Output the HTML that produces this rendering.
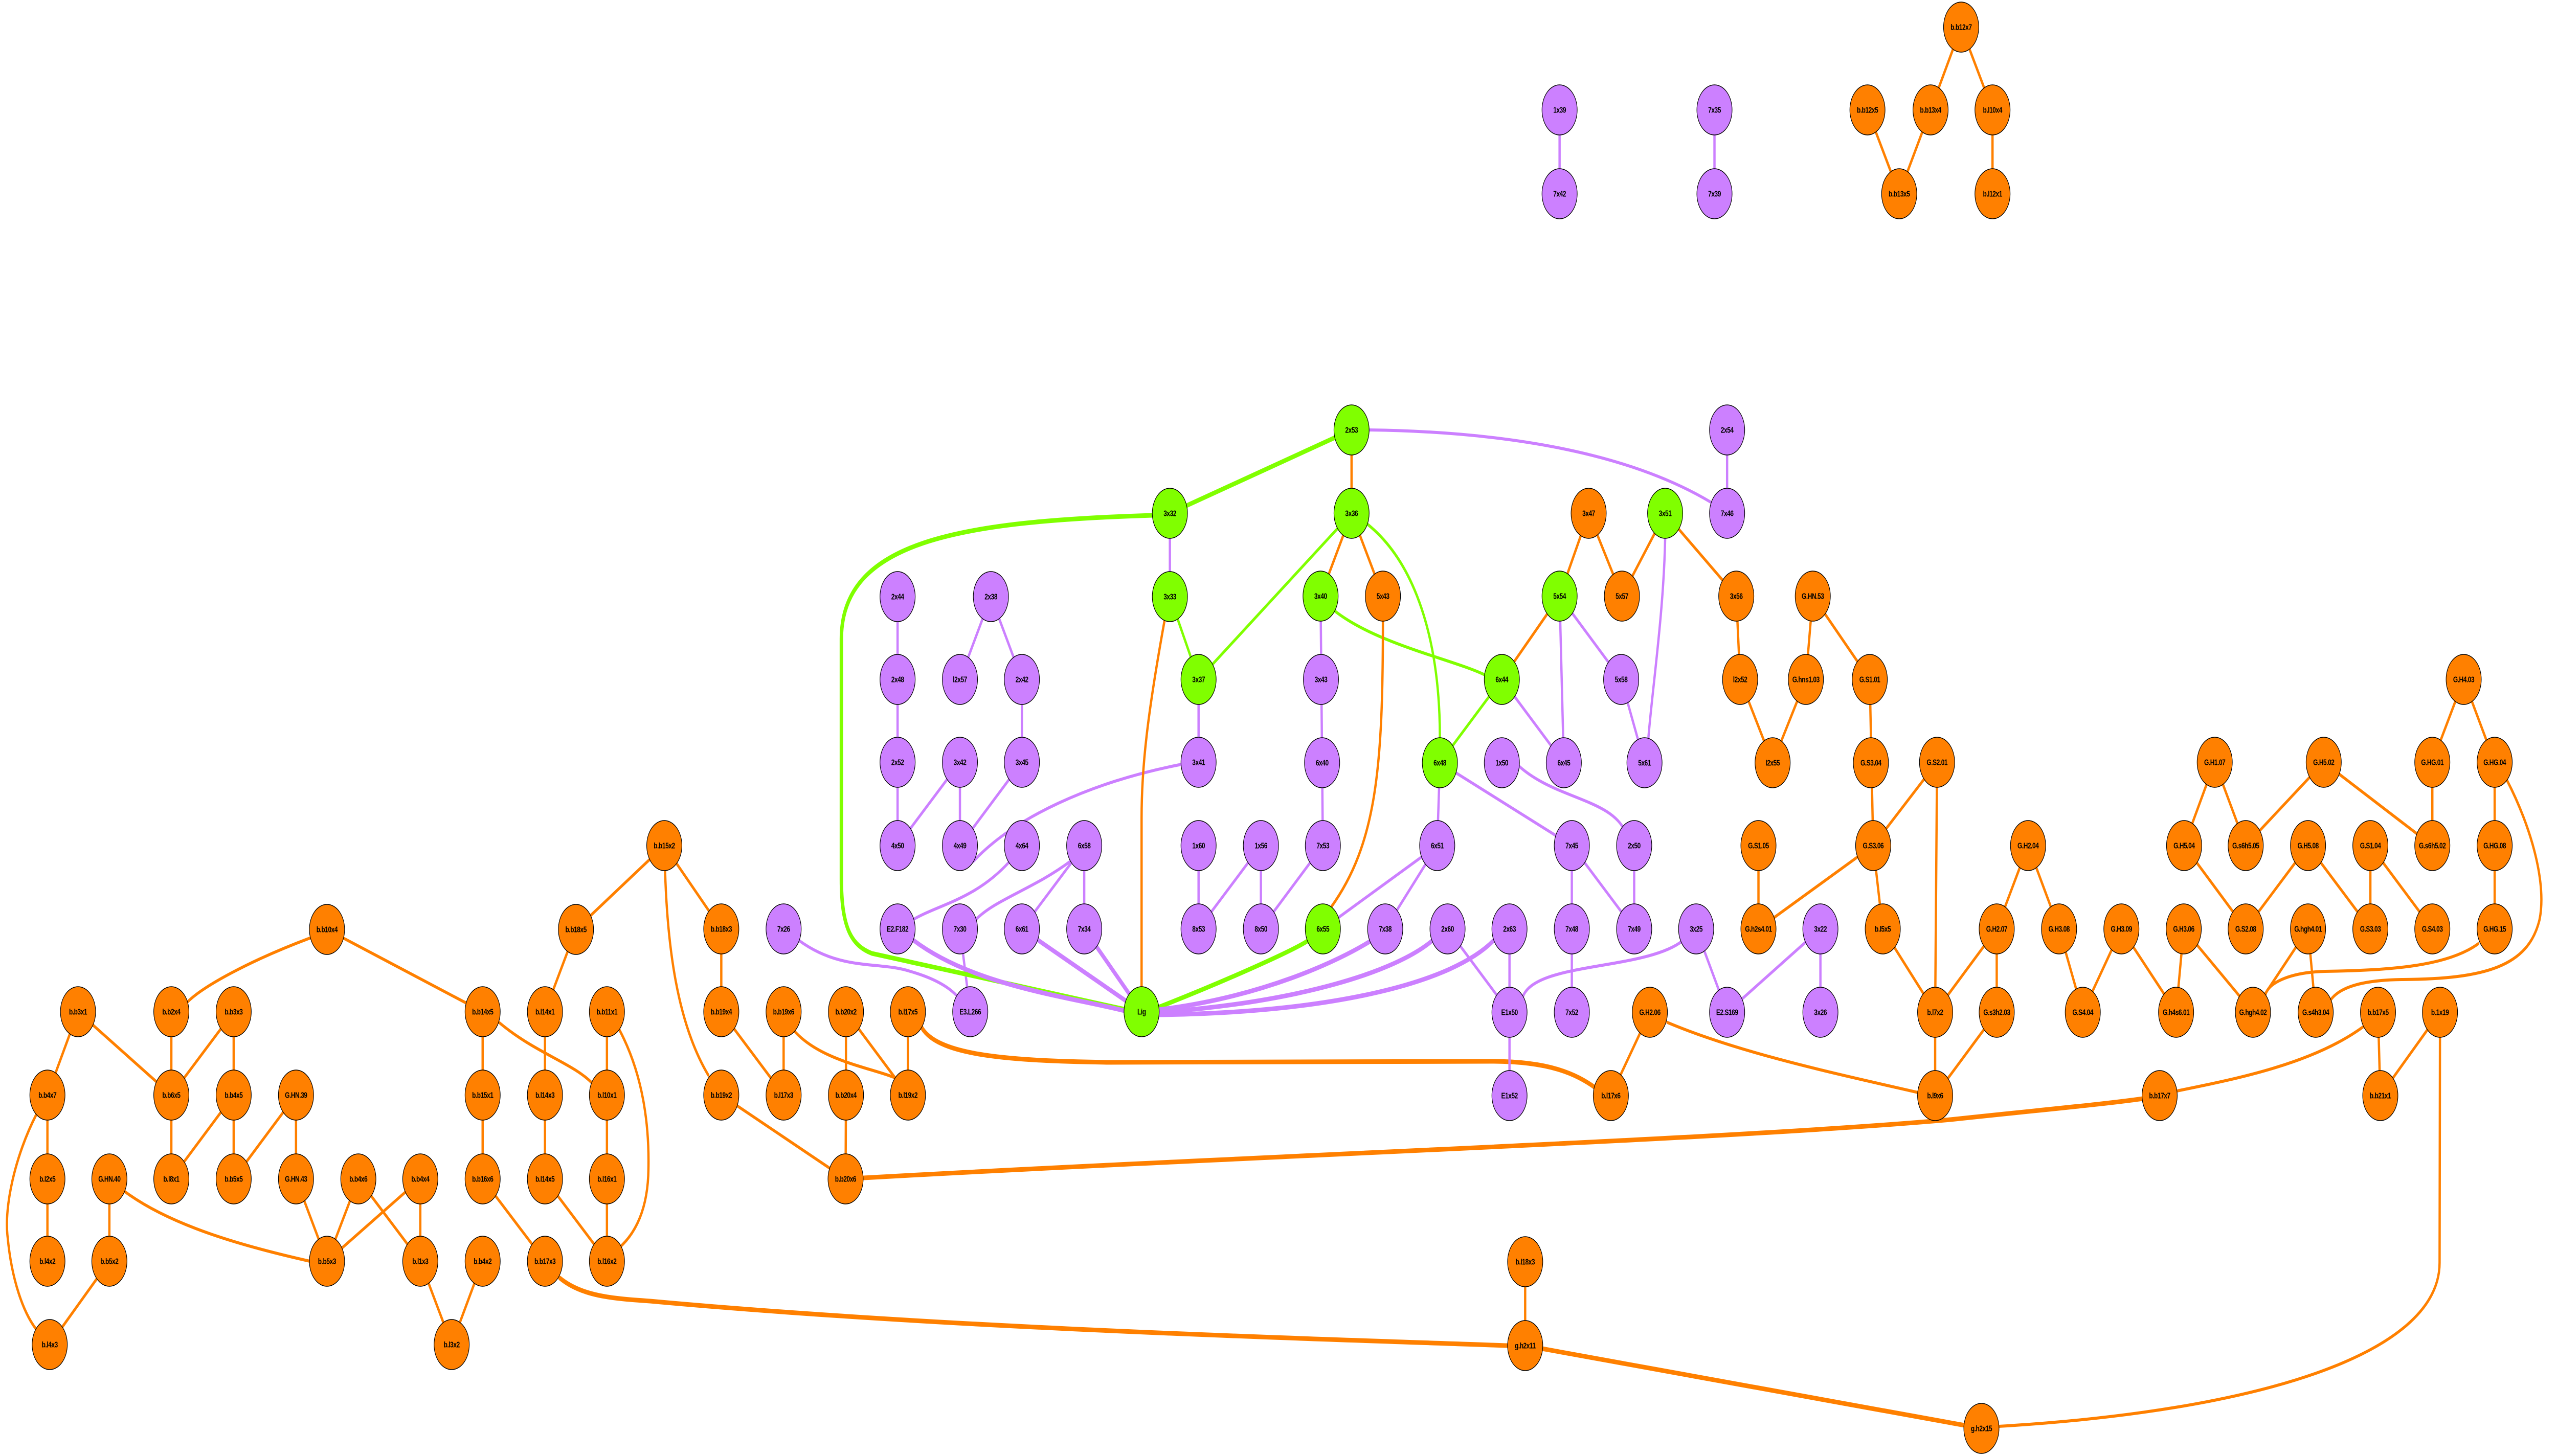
<!DOCTYPE html>
<html><head><meta charset="utf-8"><style>
html,body{margin:0;padding:0;background:#fff;overflow:hidden;width:100vw;height:100vh;}
svg{display:block;width:100vw;height:100vh;}
text{font-family:"Liberation Sans",sans-serif;font-weight:bold;font-size:16px;text-anchor:middle;dominant-baseline:central;letter-spacing:-0.6px;fill:#000;}
.o{fill:#FF8000;stroke:#000;stroke-width:1.5}
.p{fill:#CC80FF;stroke:#000;stroke-width:1.5}
.g{fill:#80FF00;stroke:#000;stroke-width:1.5}
.eo{stroke:#FF8000;stroke-width:6;fill:none}
.ep{stroke:#CC80FF;stroke-width:6;fill:none}
.eg{stroke:#80FF00;stroke-width:6;fill:none}
.w{stroke-width:9}
</style></head><body>
<svg viewBox="0 0 6686 2848" preserveAspectRatio="none" xmlns="http://www.w3.org/2000/svg">
<g stroke-linecap="round">
<line class="ep" x1="4078" y1="215" x2="4078" y2="379"/>
<line class="ep" x1="4483" y1="215" x2="4483" y2="379"/>
<line class="eo" x1="5128" y1="53" x2="5048" y2="215"/>
<line class="eo" x1="5128" y1="53" x2="5210" y2="215"/>
<line class="eo" x1="4883" y1="215" x2="4966" y2="379"/>
<line class="eo" x1="5048" y1="215" x2="4966" y2="379"/>
<line class="eo" x1="5210" y1="215" x2="5210" y2="379"/>
<path class="eo" d="M810,1835 C650,1880 530,1930 490,1960"/>
<line class="eo" x1="855" y1="1818" x2="1262" y2="1979"/>
<line class="eo" x1="204" y1="1979" x2="124" y2="2142"/>
<line class="eo" x1="204" y1="1979" x2="448" y2="2142"/>
<line class="eo" x1="448" y1="1979" x2="448" y2="2142"/>
<line class="eo" x1="611" y1="1979" x2="448" y2="2142"/>
<line class="eo" x1="611" y1="1979" x2="611" y2="2142"/>
<line class="eo" x1="448" y1="2142" x2="448" y2="2306"/>
<line class="eo" x1="611" y1="2142" x2="448" y2="2306"/>
<line class="eo" x1="611" y1="2142" x2="611" y2="2306"/>
<line class="eo" x1="774" y1="2142" x2="611" y2="2306"/>
<line class="eo" x1="774" y1="2142" x2="774" y2="2306"/>
<line class="eo" x1="124" y1="2142" x2="124" y2="2306"/>
<path class="eo" d="M95,2180 C40,2260 10,2360 20,2420 C30,2500 60,2570 100,2605"/>
<line class="eo" x1="124" y1="2306" x2="124" y2="2467"/>
<line class="eo" x1="286" y1="2306" x2="286" y2="2467"/>
<path class="eo" d="M325,2330 C450,2400 650,2440 810,2467"/>
<line class="eo" x1="286" y1="2467" x2="130" y2="2630"/>
<line class="eo" x1="774" y1="2306" x2="855" y2="2467"/>
<line class="eo" x1="937" y1="2306" x2="855" y2="2467"/>
<line class="eo" x1="937" y1="2306" x2="1099" y2="2467"/>
<line class="eo" x1="1099" y1="2306" x2="855" y2="2467"/>
<line class="eo" x1="1099" y1="2306" x2="1099" y2="2467"/>
<line class="eo" x1="1099" y1="2467" x2="1181" y2="2630"/>
<line class="eo" x1="1262" y1="2467" x2="1181" y2="2630"/>
<line class="eo" x1="1506" y1="1818" x2="1425" y2="1979"/>
<line class="eo" x1="1506" y1="1818" x2="1737" y2="1654"/>
<line class="eo" x1="1262" y1="1979" x2="1262" y2="2142"/>
<path class="eo" d="M1305,2000 C1400,2060 1500,2080 1550,2120"/>
<line class="eo" x1="1425" y1="1979" x2="1425" y2="2306"/>
<line class="eo" x1="1587" y1="1979" x2="1587" y2="2467"/>
<path class="eo" d="M1620,2015 C1680,2100 1700,2200 1695,2300 C1690,2380 1650,2420 1620,2440"/>
<line class="eo" x1="1262" y1="2142" x2="1262" y2="2306"/>
<line class="eo" x1="1262" y1="2306" x2="1425" y2="2467"/>
<line class="eo" x1="1425" y1="2306" x2="1587" y2="2467"/>
<path class="eo w" d="M1464,2500 C1520,2535 1600,2540 1700,2545 C2500,2600 3500,2620 3940,2632"/>
<line class="eo" x1="1737" y1="1654" x2="1886" y2="1817"/>
<path class="eo" d="M1739,1703 C1745,1850 1770,2000 1852,2103"/>
<line class="eo" x1="1886" y1="1817" x2="1886" y2="1979"/>
<line class="eo" x1="1886" y1="1979" x2="2049" y2="2142"/>
<line class="eo" x1="2049" y1="1979" x2="2049" y2="2142"/>
<path class="eo" d="M2075,2015 C2150,2080 2300,2090 2360,2115"/>
<line class="eo" x1="2212" y1="1979" x2="2212" y2="2142"/>
<line class="eo" x1="2212" y1="1979" x2="2374" y2="2142"/>
<line class="eo" x1="2374" y1="1979" x2="2374" y2="2142"/>
<line class="eo" x1="1886" y1="2142" x2="2211" y2="2306"/>
<line class="eo" x1="2212" y1="2142" x2="2211" y2="2306"/>
<path class="eo w" d="M2410,2010 C2450,2060 2600,2075 2900,2078 L3900,2076 C4050,2076 4120,2100 4172,2128"/>
<path class="eo w" d="M2258,2304 C3300,2260 4500,2230 5100,2190 C5350,2170 5500,2160 5603,2149"/>
<line class="ep" x1="2347" y1="1167" x2="2347" y2="1654"/>
<line class="ep" x1="2591" y1="1167" x2="2510" y2="1329"/>
<line class="ep" x1="2591" y1="1167" x2="2672" y2="1329"/>
<line class="ep" x1="2672" y1="1329" x2="2672" y2="1491"/>
<line class="ep" x1="2510" y1="1491" x2="2347" y2="1654"/>
<line class="ep" x1="2510" y1="1491" x2="2510" y2="1654"/>
<line class="ep" x1="2672" y1="1491" x2="2510" y2="1654"/>
<path class="ep" d="M3090,1495 C2850,1530 2650,1600 2545,1685"/>
<path class="ep" d="M2640,1685 C2550,1760 2450,1770 2385,1800"/>
<path class="ep" d="M2800,1684 C2700,1740 2600,1760 2550,1800"/>
<line class="ep" x1="2835" y1="1654" x2="2672" y2="1817"/>
<line class="ep" x1="2835" y1="1654" x2="2835" y2="1817"/>
<line class="ep" x1="2510" y1="1817" x2="2537" y2="1979"/>
<path class="ep" d="M2090,1840 C2200,1900 2300,1880 2380,1900 C2450,1915 2490,1935 2510,1955"/>
<line class="ep" x1="3134" y1="1654" x2="3134" y2="1817"/>
<line class="ep" x1="3297" y1="1654" x2="3134" y2="1817"/>
<line class="ep" x1="3297" y1="1654" x2="3297" y2="1817"/>
<line class="ep" x1="3459" y1="1654" x2="3297" y2="1817"/>
<path class="eg w" d="M3013,1008 C2500,1020 2200,1060 2200,1250 L2200,1720 C2200,1820 2230,1850 2280,1865 L2945,1975"/>
<line class="eg w" x1="3534" y1="841" x2="3059" y2="1004"/>
<line class="ep" x1="3059" y1="1004" x2="3059" y2="1167"/>
<line class="eg" x1="3059" y1="1167" x2="3134" y2="1329"/>
<path class="eo" d="M3045,1214 C3000,1400 2985,1500 2985,1600 L2985,1930"/>
<line class="eg" x1="3534" y1="1004" x2="3134" y2="1329"/>
<line class="ep" x1="3134" y1="1329" x2="3134" y2="1491"/>
<path class="ep w" d="M2390,1840 C2550,1930 2800,1950 2945,1978"/>
<line class="ep w" x1="2672" y1="1817" x2="2985" y2="1979"/>
<line class="ep w" x1="2835" y1="1817" x2="2985" y2="1979"/>
<path class="eg w" d="M3030,1970 C3200,1920 3380,1860 3420,1840"/>
<path class="ep w" d="M3030,1975 C3300,1950 3500,1880 3585,1840"/>
<path class="ep w" d="M3030,1980 C3400,1960 3650,1900 3745,1840"/>
<path class="ep w" d="M3030,1985 C3500,1980 3800,1920 3905,1840"/>
<line class="eo" x1="3534" y1="841" x2="3534" y2="1004"/>
<path class="ep" d="M3580,841 C4000,845 4300,900 4490,990"/>
<line class="ep" x1="4516" y1="841" x2="4516" y2="1004"/>
<line class="eo" x1="3534" y1="1004" x2="3453" y2="1166"/>
<line class="eo" x1="3534" y1="1004" x2="3616" y2="1166"/>
<path class="eg" d="M3575,1025 C3700,1100 3765,1250 3765,1443"/>
<line class="ep" x1="3453" y1="1166" x2="3459" y2="1654"/>
<path class="eg" d="M3490,1195 C3600,1260 3800,1290 3882,1320"/>
<path class="eo" d="M3616,1216 C3616,1500 3600,1650 3480,1775"/>
<line class="eo" x1="4154" y1="1004" x2="4078" y2="1166"/>
<line class="eo" x1="4154" y1="1004" x2="4241" y2="1166"/>
<line class="eo" x1="4354" y1="1004" x2="4241" y2="1166"/>
<line class="eo" x1="4354" y1="1004" x2="4540" y2="1166"/>
<path class="ep" d="M4354,1054 C4350,1200 4320,1350 4310,1445"/>
<line class="eo" x1="4078" y1="1166" x2="3927" y2="1329"/>
<line class="ep" x1="4078" y1="1166" x2="4089" y2="1492"/>
<line class="ep" x1="4078" y1="1166" x2="4239" y2="1329"/>
<line class="eg" x1="3927" y1="1329" x2="3765" y2="1492"/>
<line class="ep" x1="3927" y1="1329" x2="4089" y2="1492"/>
<line class="ep" x1="4239" y1="1329" x2="4300" y2="1492"/>
<line class="eo" x1="4540" y1="1166" x2="4550" y2="1329"/>
<line class="eo" x1="4550" y1="1329" x2="4635" y2="1492"/>
<line class="eo" x1="4740" y1="1166" x2="4722" y2="1329"/>
<line class="eo" x1="4722" y1="1329" x2="4635" y2="1492"/>
<line class="eo" x1="4740" y1="1166" x2="4889" y2="1329"/>
<line class="eo" x1="4889" y1="1329" x2="4898" y2="1654"/>
<line class="eo" x1="4898" y1="1654" x2="4598" y2="1817"/>
<line class="eo" x1="4898" y1="1654" x2="4923" y2="1817"/>
<line class="eo" x1="4898" y1="1654" x2="5065" y2="1491"/>
<line class="eo" x1="4598" y1="1654" x2="4598" y2="1817"/>
<line class="ep" x1="3765" y1="1492" x2="3758" y2="1654"/>
<line class="ep" x1="3765" y1="1492" x2="4110" y2="1654"/>
<path class="ep" d="M3960,1490 C4050,1560 4200,1560 4245,1620"/>
<line class="ep" x1="3758" y1="1654" x2="3459" y2="1817"/>
<line class="ep" x1="3758" y1="1654" x2="3622" y2="1817"/>
<line class="ep" x1="4110" y1="1654" x2="4110" y2="1980"/>
<line class="ep" x1="4110" y1="1654" x2="4273" y2="1817"/>
<line class="ep" x1="4273" y1="1654" x2="4273" y2="1817"/>
<line class="ep" x1="3785" y1="1817" x2="3947" y2="1980"/>
<line class="ep" x1="3947" y1="1817" x2="3947" y2="2143"/>
<path class="ep" d="M4400,1840 C4300,1900 4000,1880 3980,1955"/>
<line class="ep" x1="4435" y1="1817" x2="4516" y2="1980"/>
<line class="ep" x1="4760" y1="1817" x2="4516" y2="1980"/>
<line class="ep" x1="4760" y1="1817" x2="4760" y2="1980"/>
<line class="eo" x1="4314" y1="1980" x2="4212" y2="2143"/>
<path class="eo" d="M4360,2000 C4550,2060 4800,2100 5015,2137"/>
<line class="eo" x1="4923" y1="1817" x2="5060" y2="1980"/>
<line class="eo" x1="3988" y1="2468" x2="3988" y2="2632"/>
<line class="eo w" x1="3988" y1="2632" x2="5181" y2="2794"/>
<path class="eo" d="M6380,2028 L6379,2470 C6379,2650 5900,2760 5226,2790"/>
<line class="eo" x1="5065" y1="1491" x2="5060" y2="1980"/>
<line class="eo" x1="5303" y1="1654" x2="5221" y2="1817"/>
<line class="eo" x1="5303" y1="1654" x2="5384" y2="1817"/>
<line class="eo" x1="5221" y1="1817" x2="5060" y2="1980"/>
<line class="eo" x1="5221" y1="1817" x2="5221" y2="1980"/>
<line class="eo" x1="5221" y1="1980" x2="5060" y2="2143"/>
<line class="eo" x1="5060" y1="1980" x2="5060" y2="2143"/>
<line class="eo" x1="5384" y1="1817" x2="5446" y2="1980"/>
<line class="eo" x1="5547" y1="1817" x2="5446" y2="1980"/>
<line class="eo" x1="5547" y1="1817" x2="5690" y2="1980"/>
<line class="eo" x1="5710" y1="1817" x2="5690" y2="1980"/>
<line class="eo" x1="5710" y1="1817" x2="5891" y2="1980"/>
<line class="eo" x1="5791" y1="1491" x2="5711" y2="1654"/>
<line class="eo" x1="5791" y1="1491" x2="5872" y2="1654"/>
<line class="eo" x1="6076" y1="1491" x2="5872" y2="1654"/>
<line class="eo" x1="6076" y1="1491" x2="6360" y2="1654"/>
<line class="eo" x1="6360" y1="1491" x2="6360" y2="1654"/>
<line class="eo" x1="6442" y1="1329" x2="6360" y2="1491"/>
<line class="eo" x1="6442" y1="1329" x2="6523" y2="1491"/>
<line class="eo" x1="6523" y1="1491" x2="6523" y2="1817"/>
<line class="eo" x1="5711" y1="1654" x2="5872" y2="1817"/>
<line class="eo" x1="6035" y1="1654" x2="5872" y2="1817"/>
<line class="eo" x1="6035" y1="1654" x2="6198" y2="1817"/>
<line class="eo" x1="6198" y1="1654" x2="6198" y2="1817"/>
<line class="eo" x1="6198" y1="1654" x2="6360" y2="1817"/>
<line class="eo" x1="6035" y1="1817" x2="5891" y2="1980"/>
<line class="eo" x1="6035" y1="1817" x2="6055" y2="1980"/>
<path class="eo" d="M6480,1846 C6400,1890 6250,1898 6080,1900 C5980,1902 5930,1925 5924,1945"/>
<path class="eo" d="M6555,1526 C6620,1620 6660,1730 6640,1800 C6610,1890 6500,1915 6280,1916 C6180,1917 6120,1930 6095,1955"/>
<line class="eo" x1="6218" y1="1980" x2="6224" y2="2143"/>
<line class="eo" x1="6380" y1="1980" x2="6224" y2="2143"/>
<path class="eo" d="M6180,2008 C6050,2080 5850,2110 5692,2134"/>
</g>
<g>
<g class="o">
<ellipse cx="5128" cy="53" rx="46" ry="49"/><ellipse cx="4883" cy="215" rx="46" ry="49"/><ellipse cx="5048" cy="215" rx="46" ry="49"/><ellipse cx="5210" cy="215" rx="46" ry="49"/><ellipse cx="4966" cy="379" rx="46" ry="49"/><ellipse cx="5210" cy="379" rx="46" ry="49"/>
<ellipse cx="855" cy="1818" rx="46" ry="49"/><ellipse cx="1506" cy="1818" rx="46" ry="49"/>
<ellipse cx="204" cy="1979" rx="46" ry="49"/><ellipse cx="448" cy="1979" rx="46" ry="49"/><ellipse cx="611" cy="1979" rx="46" ry="49"/><ellipse cx="1262" cy="1979" rx="46" ry="49"/><ellipse cx="1425" cy="1979" rx="46" ry="49"/><ellipse cx="1587" cy="1979" rx="46" ry="49"/>
<ellipse cx="124" cy="2142" rx="46" ry="49"/><ellipse cx="448" cy="2142" rx="46" ry="49"/><ellipse cx="611" cy="2142" rx="46" ry="49"/><ellipse cx="774" cy="2142" rx="46" ry="49"/><ellipse cx="1262" cy="2142" rx="46" ry="49"/><ellipse cx="1425" cy="2142" rx="46" ry="49"/><ellipse cx="1587" cy="2142" rx="46" ry="49"/>
<ellipse cx="124" cy="2306" rx="46" ry="49"/><ellipse cx="286" cy="2306" rx="46" ry="49"/><ellipse cx="448" cy="2306" rx="46" ry="49"/><ellipse cx="611" cy="2306" rx="46" ry="49"/><ellipse cx="774" cy="2306" rx="46" ry="49"/><ellipse cx="937" cy="2306" rx="46" ry="49"/><ellipse cx="1099" cy="2306" rx="46" ry="49"/><ellipse cx="1262" cy="2306" rx="46" ry="49"/><ellipse cx="1425" cy="2306" rx="46" ry="49"/><ellipse cx="1587" cy="2306" rx="46" ry="49"/>
<ellipse cx="124" cy="2467" rx="46" ry="49"/><ellipse cx="286" cy="2467" rx="46" ry="49"/><ellipse cx="855" cy="2467" rx="46" ry="49"/><ellipse cx="1099" cy="2467" rx="46" ry="49"/><ellipse cx="1262" cy="2467" rx="46" ry="49"/><ellipse cx="1425" cy="2467" rx="46" ry="49"/><ellipse cx="1587" cy="2467" rx="46" ry="49"/>
<ellipse cx="130" cy="2630" rx="46" ry="49"/><ellipse cx="1181" cy="2630" rx="46" ry="49"/>
<ellipse cx="1737" cy="1654" rx="46" ry="49"/><ellipse cx="1886" cy="1817" rx="46" ry="49"/>
<ellipse cx="1886" cy="1979" rx="46" ry="49"/><ellipse cx="2049" cy="1979" rx="46" ry="49"/><ellipse cx="2212" cy="1979" rx="46" ry="49"/><ellipse cx="2374" cy="1979" rx="46" ry="49"/>
<ellipse cx="1886" cy="2142" rx="46" ry="49"/><ellipse cx="2049" cy="2142" rx="46" ry="49"/><ellipse cx="2212" cy="2142" rx="46" ry="49"/><ellipse cx="2374" cy="2142" rx="46" ry="49"/><ellipse cx="2211" cy="2306" rx="46" ry="49"/>
<ellipse cx="4154" cy="1004" rx="46" ry="49"/><ellipse cx="3616" cy="1166" rx="46" ry="49"/><ellipse cx="4241" cy="1166" rx="46" ry="49"/><ellipse cx="4540" cy="1166" rx="46" ry="49"/><ellipse cx="4740" cy="1166" rx="46" ry="49"/>
<ellipse cx="4550" cy="1329" rx="46" ry="49"/><ellipse cx="4722" cy="1329" rx="46" ry="49"/><ellipse cx="4889" cy="1329" rx="46" ry="49"/>
<ellipse cx="4635" cy="1492" rx="46" ry="49"/><ellipse cx="4892" cy="1492" rx="46" ry="49"/>
<ellipse cx="4598" cy="1654" rx="46" ry="49"/><ellipse cx="4898" cy="1654" rx="46" ry="49"/>
<ellipse cx="4598" cy="1817" rx="46" ry="49"/><ellipse cx="4923" cy="1817" rx="46" ry="49"/><ellipse cx="4314" cy="1980" rx="46" ry="49"/><ellipse cx="4212" cy="2143" rx="46" ry="49"/>
<ellipse cx="3988" cy="2468" rx="46" ry="49"/><ellipse cx="3988" cy="2632" rx="46" ry="49"/><ellipse cx="5181" cy="2794" rx="46" ry="49"/>
<ellipse cx="6442" cy="1329" rx="46" ry="49"/>
<ellipse cx="5065" cy="1491" rx="46" ry="49"/><ellipse cx="5791" cy="1491" rx="46" ry="49"/><ellipse cx="6076" cy="1491" rx="46" ry="49"/><ellipse cx="6360" cy="1491" rx="46" ry="49"/><ellipse cx="6523" cy="1491" rx="46" ry="49"/>
<ellipse cx="5303" cy="1654" rx="46" ry="49"/><ellipse cx="5711" cy="1654" rx="46" ry="49"/><ellipse cx="5872" cy="1654" rx="46" ry="49"/><ellipse cx="6035" cy="1654" rx="46" ry="49"/><ellipse cx="6198" cy="1654" rx="46" ry="49"/><ellipse cx="6360" cy="1654" rx="46" ry="49"/><ellipse cx="6523" cy="1654" rx="46" ry="49"/>
<ellipse cx="5221" cy="1817" rx="46" ry="49"/><ellipse cx="5384" cy="1817" rx="46" ry="49"/><ellipse cx="5547" cy="1817" rx="46" ry="49"/><ellipse cx="5710" cy="1817" rx="46" ry="49"/><ellipse cx="5872" cy="1817" rx="46" ry="49"/><ellipse cx="6035" cy="1817" rx="46" ry="49"/><ellipse cx="6198" cy="1817" rx="46" ry="49"/><ellipse cx="6360" cy="1817" rx="46" ry="49"/><ellipse cx="6523" cy="1817" rx="46" ry="49"/>
<ellipse cx="5060" cy="1980" rx="46" ry="49"/><ellipse cx="5221" cy="1980" rx="46" ry="49"/><ellipse cx="5446" cy="1980" rx="46" ry="49"/><ellipse cx="5690" cy="1980" rx="46" ry="49"/><ellipse cx="5891" cy="1980" rx="46" ry="49"/><ellipse cx="6055" cy="1980" rx="46" ry="49"/><ellipse cx="6218" cy="1980" rx="46" ry="49"/><ellipse cx="6380" cy="1980" rx="46" ry="49"/>
<ellipse cx="5060" cy="2143" rx="46" ry="49"/><ellipse cx="5647" cy="2143" rx="46" ry="49"/><ellipse cx="6224" cy="2143" rx="46" ry="49"/>
</g>
<g class="p">
<ellipse cx="4078" cy="215" rx="46" ry="49"/><ellipse cx="4078" cy="379" rx="46" ry="49"/><ellipse cx="4483" cy="215" rx="46" ry="49"/><ellipse cx="4483" cy="379" rx="46" ry="49"/>
<ellipse cx="2049" cy="1817" rx="46" ry="49"/><ellipse cx="2347" cy="1817" rx="46" ry="49"/><ellipse cx="2510" cy="1817" rx="46" ry="49"/><ellipse cx="2672" cy="1817" rx="46" ry="49"/><ellipse cx="2835" cy="1817" rx="46" ry="49"/><ellipse cx="3134" cy="1817" rx="46" ry="49"/><ellipse cx="3297" cy="1817" rx="46" ry="49"/>
<ellipse cx="2537" cy="1979" rx="46" ry="49"/>
<ellipse cx="2347" cy="1167" rx="46" ry="49"/><ellipse cx="2591" cy="1167" rx="46" ry="49"/><ellipse cx="2347" cy="1329" rx="46" ry="49"/><ellipse cx="2510" cy="1329" rx="46" ry="49"/><ellipse cx="2672" cy="1329" rx="46" ry="49"/>
<ellipse cx="2347" cy="1491" rx="46" ry="49"/><ellipse cx="2510" cy="1491" rx="46" ry="49"/><ellipse cx="2672" cy="1491" rx="46" ry="49"/>
<ellipse cx="2347" cy="1654" rx="46" ry="49"/><ellipse cx="2510" cy="1654" rx="46" ry="49"/><ellipse cx="2672" cy="1654" rx="46" ry="49"/><ellipse cx="2835" cy="1654" rx="46" ry="49"/><ellipse cx="3134" cy="1654" rx="46" ry="49"/><ellipse cx="3297" cy="1654" rx="46" ry="49"/>
<ellipse cx="3134" cy="1491" rx="46" ry="49"/>
<ellipse cx="4516" cy="1004" rx="46" ry="49"/><ellipse cx="4516" cy="841" rx="46" ry="49"/>
<ellipse cx="3454" cy="1329" rx="46" ry="49"/><ellipse cx="4239" cy="1329" rx="46" ry="49"/>
<ellipse cx="3457" cy="1492" rx="46" ry="49"/><ellipse cx="3927" cy="1492" rx="46" ry="49"/><ellipse cx="4089" cy="1492" rx="46" ry="49"/><ellipse cx="4300" cy="1492" rx="46" ry="49"/>
<ellipse cx="3459" cy="1654" rx="46" ry="49"/><ellipse cx="3758" cy="1654" rx="46" ry="49"/><ellipse cx="4110" cy="1654" rx="46" ry="49"/><ellipse cx="4273" cy="1654" rx="46" ry="49"/>
<ellipse cx="3622" cy="1817" rx="46" ry="49"/><ellipse cx="3785" cy="1817" rx="46" ry="49"/><ellipse cx="3947" cy="1817" rx="46" ry="49"/><ellipse cx="4110" cy="1817" rx="46" ry="49"/><ellipse cx="4273" cy="1817" rx="46" ry="49"/><ellipse cx="4435" cy="1817" rx="46" ry="49"/><ellipse cx="4760" cy="1817" rx="46" ry="49"/>
<ellipse cx="3947" cy="1980" rx="46" ry="49"/><ellipse cx="4110" cy="1980" rx="46" ry="49"/><ellipse cx="4516" cy="1980" rx="46" ry="49"/><ellipse cx="4760" cy="1980" rx="46" ry="49"/>
<ellipse cx="3947" cy="2143" rx="46" ry="49"/>
</g>
<g class="g">
<ellipse cx="2985" cy="1979" rx="46" ry="49"/>
<ellipse cx="3059" cy="1004" rx="46" ry="49"/><ellipse cx="3059" cy="1167" rx="46" ry="49"/><ellipse cx="3134" cy="1329" rx="46" ry="49"/>
<ellipse cx="3534" cy="841" rx="46" ry="49"/><ellipse cx="3534" cy="1004" rx="46" ry="49"/><ellipse cx="4354" cy="1004" rx="46" ry="49"/>
<ellipse cx="3453" cy="1166" rx="46" ry="49"/><ellipse cx="4078" cy="1166" rx="46" ry="49"/><ellipse cx="3927" cy="1329" rx="46" ry="49"/><ellipse cx="3765" cy="1492" rx="46" ry="49"/><ellipse cx="3459" cy="1817" rx="46" ry="49"/>
</g>
<text x="5128" y="53">b.b12x7</text><text x="4883" y="215">b.b12x5</text><text x="5048" y="215">b.b13x4</text><text x="5210" y="215">b.l10x4</text><text x="4966" y="379">b.b13x5</text><text x="5210" y="379">b.l12x1</text>
<text x="4078" y="215">1x39</text><text x="4078" y="379">7x42</text><text x="4483" y="215">7x35</text><text x="4483" y="379">7x39</text>
<text x="855" y="1818">b.b10x4</text><text x="1506" y="1818">b.b18x5</text>
<text x="204" y="1979">b.b3x1</text><text x="448" y="1979">b.b2x4</text><text x="611" y="1979">b.b3x3</text><text x="1262" y="1979">b.b14x5</text><text x="1425" y="1979">b.l14x1</text><text x="1587" y="1979">b.b11x1</text>
<text x="124" y="2142">b.b4x7</text><text x="448" y="2142">b.b6x5</text><text x="611" y="2142">b.b4x5</text><text x="774" y="2142">G.HN.39</text><text x="1262" y="2142">b.b15x1</text><text x="1425" y="2142">b.l14x3</text><text x="1587" y="2142">b.l10x1</text>
<text x="124" y="2306">b.l2x5</text><text x="286" y="2306">G.HN.40</text><text x="448" y="2306">b.l8x1</text><text x="611" y="2306">b.b5x5</text><text x="774" y="2306">G.HN.43</text><text x="937" y="2306">b.b4x6</text><text x="1099" y="2306">b.b4x4</text><text x="1262" y="2306">b.b16x6</text><text x="1425" y="2306">b.l14x5</text><text x="1587" y="2306">b.l16x1</text>
<text x="124" y="2467">b.l4x2</text><text x="286" y="2467">b.b5x2</text><text x="855" y="2467">b.b5x3</text><text x="1099" y="2467">b.l1x3</text><text x="1262" y="2467">b.b4x2</text><text x="1425" y="2467">b.b17x3</text><text x="1587" y="2467">b.l16x2</text>
<text x="130" y="2630">b.l4x3</text><text x="1181" y="2630">b.l3x2</text>
<text x="1737" y="1654">b.b15x2</text><text x="1886" y="1817">b.b18x3</text><text x="2049" y="1817">7x26</text><text x="2347" y="1817">E2.F182</text><text x="2510" y="1817">7x30</text><text x="2672" y="1817">6x61</text><text x="2835" y="1817">7x34</text><text x="3134" y="1817">8x53</text><text x="3297" y="1817">8x50</text>
<text x="1886" y="1979">b.b19x4</text><text x="2049" y="1979">b.b19x6</text><text x="2212" y="1979">b.b20x2</text><text x="2374" y="1979">b.l17x5</text><text x="2537" y="1979">E3.L266</text><text x="2985" y="1979">Lig</text>
<text x="1886" y="2142">b.b19x2</text><text x="2049" y="2142">b.l17x3</text><text x="2212" y="2142">b.b20x4</text><text x="2374" y="2142">b.l19x2</text><text x="2211" y="2306">b.b20x6</text>
<text x="2347" y="1167">2x44</text><text x="2591" y="1167">2x38</text><text x="2347" y="1329">2x48</text><text x="2510" y="1329">l2x57</text><text x="2672" y="1329">2x42</text>
<text x="2347" y="1491">2x52</text><text x="2510" y="1491">3x42</text><text x="2672" y="1491">3x45</text>
<text x="2347" y="1654">4x50</text><text x="2510" y="1654">4x49</text><text x="2672" y="1654">4x64</text><text x="2835" y="1654">6x58</text><text x="3134" y="1654">1x60</text><text x="3297" y="1654">1x56</text>
<text x="3059" y="1004">3x32</text><text x="3059" y="1167">3x33</text><text x="3134" y="1329">3x37</text><text x="3134" y="1491">3x41</text>
<text x="3534" y="841">2x53</text><text x="4516" y="841">2x54</text>
<text x="3534" y="1004">3x36</text><text x="4154" y="1004">3x47</text><text x="4354" y="1004">3x51</text><text x="4516" y="1004">7x46</text>
<text x="3453" y="1166">3x40</text><text x="3616" y="1166">5x43</text><text x="4078" y="1166">5x54</text><text x="4241" y="1166">5x57</text><text x="4540" y="1166">3x56</text><text x="4740" y="1166">G.HN.53</text>
<text x="3454" y="1329">3x43</text><text x="3927" y="1329">6x44</text><text x="4239" y="1329">5x58</text><text x="4550" y="1329">l2x52</text><text x="4722" y="1329">G.hns1.03</text><text x="4889" y="1329">G.S1.01</text>
<text x="3457" y="1492">6x40</text><text x="3765" y="1492">6x48</text><text x="3927" y="1492">1x50</text><text x="4089" y="1492">6x45</text><text x="4300" y="1492">5x61</text><text x="4635" y="1492">l2x55</text><text x="4892" y="1492">G.S3.04</text>
<text x="3459" y="1654">7x53</text><text x="3758" y="1654">6x51</text><text x="4110" y="1654">7x45</text><text x="4273" y="1654">2x50</text><text x="4598" y="1654">G.S1.05</text><text x="4898" y="1654">G.S3.06</text>
<text x="3459" y="1817">6x55</text><text x="3622" y="1817">7x38</text><text x="3785" y="1817">2x60</text><text x="3947" y="1817">2x63</text><text x="4110" y="1817">7x48</text><text x="4273" y="1817">7x49</text><text x="4435" y="1817">3x25</text><text x="4598" y="1817">G.h2s4.01</text><text x="4760" y="1817">3x22</text><text x="4923" y="1817">b.l5x5</text>
<text x="3947" y="1980">E1x50</text><text x="4110" y="1980">7x52</text><text x="4314" y="1980">G.H2.06</text><text x="4516" y="1980">E2.S169</text><text x="4760" y="1980">3x26</text>
<text x="3947" y="2143">E1x52</text><text x="4212" y="2143">b.l17x6</text>
<text x="3988" y="2468">b.l18x3</text><text x="3988" y="2632">g.h2x11</text><text x="5181" y="2794">g.h2x15</text>
<text x="6442" y="1329">G.H4.03</text>
<text x="5065" y="1491">G.S2.01</text><text x="5791" y="1491">G.H1.07</text><text x="6076" y="1491">G.H5.02</text><text x="6360" y="1491">G.HG.01</text><text x="6523" y="1491">G.HG.04</text>
<text x="5303" y="1654">G.H2.04</text><text x="5711" y="1654">G.H5.04</text><text x="5872" y="1654">G.s6h5.05</text><text x="6035" y="1654">G.H5.08</text><text x="6198" y="1654">G.S1.04</text><text x="6360" y="1654">G.s6h5.02</text><text x="6523" y="1654">G.HG.08</text>
<text x="5221" y="1817">G.H2.07</text><text x="5384" y="1817">G.H3.08</text><text x="5547" y="1817">G.H3.09</text><text x="5710" y="1817">G.H3.06</text><text x="5872" y="1817">G.S2.08</text><text x="6035" y="1817">G.hgh4.01</text><text x="6198" y="1817">G.S3.03</text><text x="6360" y="1817">G.S4.03</text><text x="6523" y="1817">G.HG.15</text>
<text x="5060" y="1980">b.l7x2</text><text x="5221" y="1980">G.s3h2.03</text><text x="5446" y="1980">G.S4.04</text><text x="5690" y="1980">G.h4s6.01</text><text x="5891" y="1980">G.hgh4.02</text><text x="6055" y="1980">G.s4h3.04</text><text x="6218" y="1980">b.b17x5</text><text x="6380" y="1980">b.1x19</text>
<text x="5060" y="2143">b.l9x6</text><text x="5647" y="2143">b.b17x7</text><text x="6224" y="2143">b.b21x1</text>
</g>
</svg>
</body></html>
